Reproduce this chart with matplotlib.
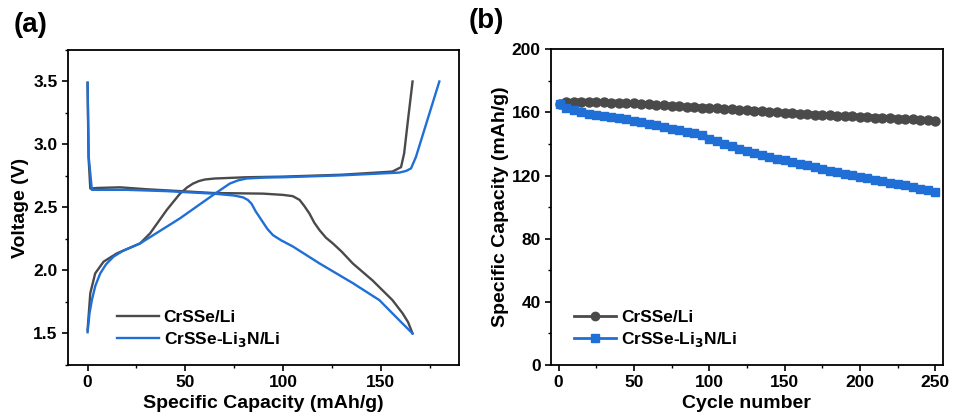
import matplotlib
matplotlib.use("Agg")
import matplotlib.pyplot as plt
from matplotlib.ticker import MultipleLocator, FormatStrFormatter
from matplotlib.lines import Line2D

plt.rcParams['font.family'] = ['Liberation Sans', 'DejaVu Sans']
plt.rcParams['font.weight'] = 'bold'
plt.rcParams['mathtext.default'] = 'bf'

GRAY = '#4a4a4a'
BLUE = '#1f6fd6'

# (a) charge / discharge profiles
gray_dis_cap = [0, 0.5, 1.4, 5, 16.7, 30, 47.3, 64.3, 89.8, 100, 105, 108.5, 111, 113.6,
                116, 118.7, 122, 125.5, 130, 135.7, 145.9, 156, 161.2, 164, 166.3]
gray_dis_v = [3.49, 2.90, 2.65, 2.655, 2.66, 2.645, 2.63, 2.615, 2.61, 2.60, 2.59, 2.56,
              2.51, 2.45, 2.38, 2.32, 2.26, 2.215, 2.15, 2.056, 1.92, 1.765, 1.66, 1.59, 1.50]
gray_chg_cap = [0, 1.4, 3.9, 8.2, 15, 26.9, 32, 40.5, 47.3, 51, 54, 57, 60, 65, 81.3, 100,
                130, 156, 160.4, 162, 164, 166.3]
gray_chg_v = [1.526, 1.82, 1.977, 2.07, 2.136, 2.215, 2.295, 2.48, 2.61, 2.66, 2.69, 2.71,
              2.722, 2.73, 2.74, 2.745, 2.76, 2.785, 2.82, 2.93, 3.20, 3.50]
blue_dis_cap = [0, 0.6, 2.2, 20, 40, 64.3, 75, 79.6, 82, 83.9, 86, 89, 92, 94.9, 99, 105.1,
                118.7, 135.7, 149.3, 159.5, 166.3]
blue_dis_v = [3.49, 2.90, 2.64, 2.64, 2.63, 2.61, 2.595, 2.58, 2.56, 2.53, 2.47, 2.40, 2.33,
              2.28, 2.24, 2.19, 2.056, 1.90, 1.765, 1.605, 1.50]
blue_chg_cap = [0, 1, 2.2, 4, 6.5, 9.5, 13.3, 18, 26.9, 47.3, 64.3, 69, 72.8, 77, 81.3, 90,
                100, 130, 159.5, 163, 165.5, 168, 180]
blue_chg_v = [1.51, 1.66, 1.765, 1.88, 1.977, 2.05, 2.11, 2.155, 2.215, 2.414, 2.60, 2.65,
              2.69, 2.715, 2.73, 2.737, 2.74, 2.755, 2.777, 2.79, 2.81, 2.90, 3.50]

# (b) cycling, every 5 cycles
cycles = [1, 5, 10, 15, 20, 25, 30, 35, 40, 45, 50, 55, 60, 65, 70, 75, 80, 85, 90, 95,
          100, 105, 110, 115, 120, 125, 130, 135, 140, 145, 150, 155, 160, 165, 170, 175,
          180, 185, 190, 195, 200, 205, 210, 215, 220, 225, 230, 235, 240, 245, 250]
cap_crsse = [165.5, 166.5, 166.8, 166.8, 166.7, 166.6, 166.5, 166.3, 166.1, 165.9, 165.7,
             165.4, 165.1, 164.8, 164.5, 164.2, 163.9, 163.6, 163.4, 163.1, 162.9, 162.6,
             162.3, 162.0, 161.7, 161.4, 161.1, 160.8, 160.5, 160.2, 159.8, 159.5, 159.2,
             158.9, 158.6, 158.4, 158.2, 157.9, 157.7, 157.5, 157.2, 157.0, 156.8, 156.6,
             156.4, 156.1, 155.9, 155.6, 155.4, 155.1, 154.8]
cap_li3n = [165.5, 163.0, 161.5, 160.3, 159.3, 158.5, 157.8, 157.0, 156.3, 155.6, 154.8,
            153.9, 152.9, 151.9, 150.9, 149.8, 148.7, 147.6, 146.7, 145.8, 143.0, 141.6,
            140.1, 138.6, 137.1, 135.6, 134.2, 132.9, 131.7, 130.6, 129.6, 128.5, 127.4,
            126.4, 125.3, 124.3, 123.2, 122.2, 121.2, 120.3, 119.4, 118.4, 117.5, 116.6,
            115.6, 114.7, 113.8, 112.8, 111.8, 110.8, 109.8]

fig = plt.figure(figsize=(9.54, 4.19), dpi=100)
ax1 = fig.add_axes([0.0713, 0.1289, 0.4097, 0.7518])
ax2 = fig.add_axes([0.5776, 0.1289, 0.4106, 0.7534])

ax1.plot(gray_dis_cap, gray_dis_v, color=GRAY, lw=1.7, label='CrSSe/Li')
ax1.plot(gray_chg_cap, gray_chg_v, color=GRAY, lw=1.7)
ax1.plot(blue_dis_cap, blue_dis_v, color=BLUE, lw=1.7, label='CrSSe-Li$_3$N/Li')
ax1.plot(blue_chg_cap, blue_chg_v, color=BLUE, lw=1.7)
ax1.set_xlim(-10, 190)
ax1.set_ylim(1.25, 3.75)
ax1.xaxis.set_major_locator(MultipleLocator(50))
ax1.xaxis.set_minor_locator(MultipleLocator(25))
ax1.yaxis.set_major_locator(MultipleLocator(0.5))
ax1.yaxis.set_minor_locator(MultipleLocator(0.25))
ax1.yaxis.set_major_formatter(FormatStrFormatter('%.1f'))
ax1.set_xlabel('Specific Capacity (mAh/g)', fontsize=14, fontweight='bold', labelpad=3)
ax1.set_ylabel('Voltage (V)', fontsize=14, fontweight='bold', labelpad=3)
ax1.legend(loc='lower left', bbox_to_anchor=(0.085, 0.0), frameon=False, fontsize=12.5,
           handlelength=2.4, handletextpad=0.3, labelspacing=0.3)

ax2.plot(cycles, cap_crsse, color=GRAY, marker='o', ms=6.5, lw=4.5)
ax2.plot(cycles, cap_li3n, color=BLUE, marker='s', ms=6, lw=4.5)
ax2.set_xlim(-5, 255)
ax2.set_ylim(0, 200)
ax2.xaxis.set_major_locator(MultipleLocator(50))
ax2.xaxis.set_minor_locator(MultipleLocator(25))
ax2.yaxis.set_major_locator(MultipleLocator(40))
ax2.yaxis.set_minor_locator(MultipleLocator(20))
ax2.set_xlabel('Cycle number', fontsize=14, fontweight='bold', labelpad=3)
ax2.set_ylabel('Specific Capacity (mAh/g)', fontsize=14, fontweight='bold', labelpad=2)
handles = [Line2D([], [], color=GRAY, marker='o', ms=6, lw=2),
           Line2D([], [], color=BLUE, marker='s', ms=5.5, lw=2)]
ax2.legend(handles, ['CrSSe/Li', 'CrSSe-Li$_3$N/Li'], loc='lower left',
           bbox_to_anchor=(0.02, 0.0), frameon=False, fontsize=12.5,
           handlelength=2.4, handletextpad=0.3, labelspacing=0.3)

for ax in (ax1, ax2):
    for s in ax.spines.values():
        s.set_linewidth(1.3)
    ax.tick_params(which='major', direction='out', length=4, width=1.2, labelsize=12.5)
    ax.tick_params(which='minor', direction='out', length=2.5, width=1.0)
    for lab in ax.get_xticklabels() + ax.get_yticklabels():
        lab.set_fontweight('bold')

fig.text(0.014, 0.94, '(a)', fontsize=20, fontweight='bold', va='center')
fig.text(0.491, 0.95, '(b)', fontsize=20, fontweight='bold', va='center')

fig.savefig('out.png', dpi=100)
